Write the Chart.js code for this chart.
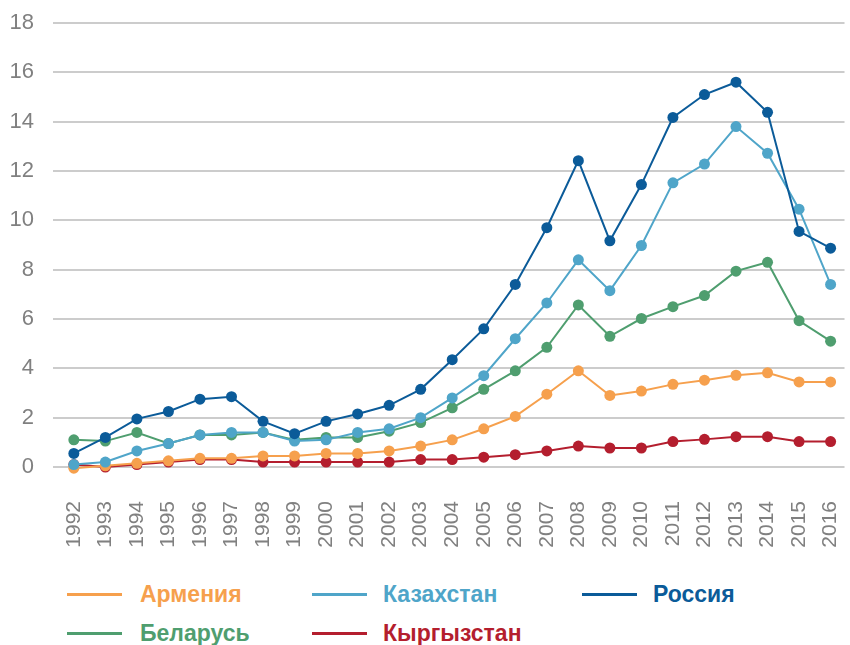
<!DOCTYPE html>
<html lang="ru">
<head>
<meta charset="UTF-8">
<title>Chart</title>
<script src="https://cdn.jsdelivr.net/npm/chart.js"></script>
<style>
    body { margin: 0; background: #fff; font-family: "Liberation Sans", Arial, sans-serif; }
    .wrap { position: relative; width: 850px; height: 645px; }
    .grafico { position: absolute; left: 0; top: 0; width: 850px; height: 560px; }
    .legenda { position: absolute; height: 30px; font-weight: bold; font-size: 23px; line-height: 30px; white-space: nowrap; }
    .legenda span.linha { position: absolute; top: 14px; height: 3px; width: 55px; }
    .legenda span.nome { position: absolute; }
</style>
</head>
<body>
<div class="wrap">
    <div class="grafico"><canvas id="grafico"></canvas></div>
    <div id="legenda"></div>
</div>
<script>
    const anos = [1992, 1993, 1994, 1995, 1996, 1997, 1998, 1999, 2000, 2001, 2002, 2003, 2004,
        2005, 2006, 2007, 2008, 2009, 2010, 2011, 2012, 2013, 2014, 2015, 2016];

    const armenia = [-0.05, 0.05, 0.15, 0.25, 0.35, 0.35, 0.45, 0.45, 0.55, 0.55, 0.65, 0.85, 1.1,
        1.55, 2.05, 2.95, 3.9, 2.9, 3.08, 3.35, 3.52, 3.72, 3.82, 3.45, 3.45];
    const kazakhstan = [0.1, 0.2, 0.65, 0.95, 1.3, 1.4, 1.4, 1.05, 1.1, 1.4, 1.55, 2.0, 2.8,
        3.7, 5.2, 6.65, 8.4, 7.15, 8.98, 11.52, 12.28, 13.8, 12.72, 10.45, 7.4];
    const russia = [0.55, 1.2, 1.95, 2.25, 2.75, 2.85, 1.85, 1.35, 1.85, 2.15, 2.5, 3.15, 4.35,
        5.6, 7.4, 9.7, 12.42, 9.17, 11.45, 14.17, 15.1, 15.6, 14.38, 9.55, 8.87];
    const belarus = [1.1, 1.05, 1.4, 0.95, 1.3, 1.3, 1.4, 1.1, 1.2, 1.2, 1.45, 1.8, 2.4,
        3.15, 3.9, 4.85, 6.57, 5.3, 6.02, 6.5, 6.95, 7.94, 8.3, 5.93, 5.1];
    const kyrgyzstan = [0.1, 0.0, 0.1, 0.2, 0.3, 0.3, 0.2, 0.2, 0.2, 0.2, 0.2, 0.3, 0.3,
        0.4, 0.5, 0.65, 0.85, 0.77, 0.77, 1.03, 1.12, 1.23, 1.23, 1.03, 1.03];

    const series = [
        { nome: 'Армения', dados: armenia, cor: '#f6a04d' },
        { nome: 'Казахстан', dados: kazakhstan, cor: '#4fa5c9' },
        { nome: 'Россия', dados: russia, cor: '#0b5b99' },
        { nome: 'Беларусь', dados: belarus, cor: '#4f9e6f' },
        { nome: 'Кыргызстан', dados: kyrgyzstan, cor: '#b41e2e' }
    ];

    // ordem de desenho: Россия fica por cima
    const ordemDesenho = ['Кыргызстан', 'Армения', 'Беларусь', 'Казахстан', 'Россия'];

    const datasets = series.map(function (s) {
        return {
            label: s.nome,
            data: s.dados.map(function (v, i) { return { x: anos[i], y: v }; }),
            borderColor: s.cor,
            backgroundColor: s.cor,
            borderWidth: 2,
            pointRadius: 5.5,
            pointBorderWidth: 0,
            pointHoverRadius: 5.5,
            tension: 0,
            clip: false,
            order: 10 - ordemDesenho.indexOf(s.nome)
        };
    });

    new Chart(document.getElementById('grafico'), {
        type: 'line',
        data: { datasets: datasets },
        options: {
            responsive: true,
            maintainAspectRatio: false,
            animation: false,
            layout: { padding: { top: 23, right: 0, bottom: 0, left: 0 } },
            plugins: { legend: { display: false }, tooltip: { enabled: false } },
            scales: {
                x: {
                    type: 'linear',
                    min: 1991.339,
                    max: 2016.441,
                    grid: { display: false },
                    border: { display: false },
                    afterBuildTicks: function (scale) {
                        scale.ticks = anos.map(function (a) { return { value: a }; });
                    },
                    afterFit: function (scale) {
                        scale.height = 93;
                        scale.paddingLeft = 0;
                        scale.paddingRight = 0;
                        scale.paddingTop = 0;
                        scale.paddingBottom = 0;
                    },
                    ticks: {
                        autoSkip: false,
                        minRotation: 90,
                        maxRotation: 90,
                        padding: 26,
                        color: '#808080',
                        font: { family: '"Liberation Sans", Arial, sans-serif', size: 21 },
                        callback: function (v) { return String(v); }
                    }
                },
                y: {
                    min: 0,
                    max: 18,
                    ticks: {
                        stepSize: 2,
                        padding: 19,
                        color: '#808080',
                        font: { family: '"Liberation Sans", Arial, sans-serif', size: 22 }
                    },
                    grid: { color: '#cccccc', lineWidth: 2, drawTicks: false },
                    border: { display: false },
                    afterFit: function (scale) {
                        scale.width = 53;
                        scale.paddingTop = 0;
                        scale.paddingBottom = 0;
                    }
                }
            }
        }
    });

    // legenda em colunas
    const posLegenda = [
        { linha: 67, texto: 140, topo: 579 },
        { linha: 312, texto: 383, topo: 579 },
        { linha: 582, texto: 653, topo: 579 },
        { linha: 67, texto: 140, topo: 618 },
        { linha: 312, texto: 383, topo: 618 }
    ];
    let html = '';
    series.forEach(function (s, i) {
        const p = posLegenda[i];
        html += '<div class="legenda" style="left:0;top:' + p.topo + 'px;color:' + s.cor + '">' +
            '<span class="linha" style="left:' + p.linha + 'px;background:' + s.cor + '"></span>' +
            '<span class="nome" style="left:' + p.texto + 'px">' + s.nome + '</span></div>';
    });
    document.getElementById('legenda').innerHTML = html;
</script>
</body>
</html>
